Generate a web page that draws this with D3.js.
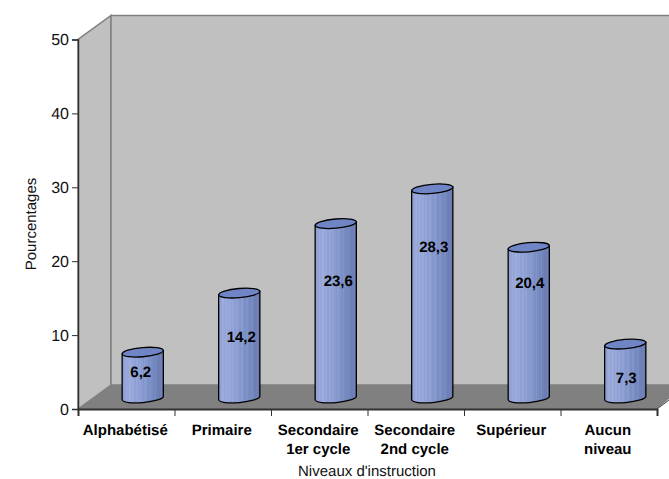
<!DOCTYPE html>
<html>
<head>
<meta charset="utf-8">
<script src="https://cdnjs.cloudflare.com/ajax/libs/d3/7.8.5/d3.min.js"></script>
<style>
  html, body { margin: 0; padding: 0; background: #fff; }
  svg { display: block; font-family: "Liberation Sans", Arial, sans-serif; text-rendering: geometricPrecision; }
</style>
</head>
<body>
<svg id="chart" width="669" height="479"></svg>
<script>
const categories = ["Alphabétisé", "Primaire", "Secondaire|1er cycle", "Secondaire|2nd cycle", "Supérieur", "Aucun|niveau"];
const values = [6.2, 14.2, 23.6, 28.3, 20.4, 7.3];
const valueLabels = ["6,2", "14,2", "23,6", "28,3", "20,4", "7,3"];
const labelHeights = [3.5, 8.3, 15.8, 20.5, 15.5, 2.7];
const labelShifts = [-2, 2, 2.5, 1.5, 1, 1];
const yTicks = [0, 10, 20, 30, 40, 50];
const stripeColors = ["#8e9ed2", "#93a3d6", "#9babdb", "#96a6d8", "#9dadde", "#94a5d8", "#98a8da", "#8fa0d5", "#94a5d8", "#8b9dd2", "#90a1d5", "#8a9bd0", "#8496cc", "#8a9ccf", "#8295ca", "#7b8fc5", "#8094c9", "#788cc2", "#7487bd", "#7a8dc2", "#7083b9", "#6c7eb4", "#6f81b6", "#6a7bb0"];

const svg = d3.select("#chart");
const W = 669;

const x = d3.scaleBand().domain(categories).range([78, 657]);
const y = d3.scaleLinear().domain([0, 50]).range([409, 39.5]);

// Oblique depth of the 3D box, and how far the cylinders sit into it
const depthX = 33, depthY = 24;
const seatY = 11;
const rx = 20.6, ry = 4.6, tilt = -5;
const tiltRise = rx * Math.sin(-tilt * Math.PI / 180);

// Fine vertical striping across the cylinder body
const defs = svg.append("defs");
const grad = defs.append("linearGradient").attr("id", "cyl");
stripeColors.forEach((c, i) => {
  grad.append("stop").attr("offset", i / stripeColors.length).attr("stop-color", c);
  grad.append("stop").attr("offset", (i + 1) / stripeColors.length).attr("stop-color", c);
});

// Walls and floor
const x0 = x.range()[0], x1 = x.range()[1], y0 = y(0), yTop = y(50);
const wallStroke = "#808080";
svg.append("polygon")
  .attr("points", [[x0, y0], [x0, yTop], [x0 + depthX, yTop - depthY], [x0 + depthX, y0 - depthY]].join(" "))
  .attr("fill", "#c0c0c0").attr("stroke", wallStroke).attr("stroke-width", 1.5);
svg.append("rect")
  .attr("x", x0 + depthX).attr("y", yTop - depthY)
  .attr("width", W - x0 - depthX + 2).attr("height", y0 - yTop)
  .attr("fill", "#c0c0c0").attr("stroke", wallStroke).attr("stroke-width", 1.5);
svg.append("polygon")
  .attr("points", [[x0, y0], [x0 + depthX, y0 - depthY], [W + 2, y0 - depthY], [W + 2, y0 - 12], [x1, y0]].join(" "))
  .attr("fill", "#808080");
svg.append("line")
  .attr("x1", x1).attr("y1", y0).attr("x2", x1 + 16).attr("y2", y0 - 12)
  .attr("stroke", "#404040").attr("stroke-width", 1);

// Cylinders
const bars = svg.selectAll("g.bar").data(categories).join("g").attr("class", "bar");
const cx = (d) => x(d) + x.bandwidth() / 2 + 16.5;
const baseY = y0 - seatY;
const heightPx = (v) => y0 - y(v);
const topY = (i) => baseY - heightPx(values[i]);

bars.append("path")
  .attr("d", (d, i) => {
    const l = cx(d) - rx, r = cx(d) + rx, t = topY(i);
    return `M${l},${t + tiltRise}L${l},${baseY + tiltRise}A${rx},${ry} ${tilt} 0 0 ${r},${baseY - tiltRise}L${r},${t - tiltRise}Z`;
  })
  .attr("fill", "url(#cyl)").attr("stroke", "#000").attr("stroke-width", 1.3);
bars.append("ellipse")
  .attr("rx", rx).attr("ry", ry)
  .attr("transform", (d, i) => `translate(${cx(d)},${topY(i)}) rotate(${tilt})`)
  .attr("fill", "#7085c6").attr("stroke", "#000").attr("stroke-width", 1.3);
bars.append("text")
  .attr("x", (d, i) => cx(d) + labelShifts[i]).attr("y", (d, i) => baseY - heightPx(labelHeights[i]) + 5)
  .attr("text-anchor", "middle")
  .attr("font-size", 15).attr("font-weight", "bold").attr("fill", "#000")
  .text((d, i) => valueLabels[i]);

// Axes
const axisColor = "#303030";
const yAxis = d3.axisLeft(y).tickValues(yTicks).tickSize(6).tickPadding(3);
const gy = svg.append("g").attr("transform", `translate(${x0},0)`).call(yAxis);
gy.select(".domain").attr("stroke", axisColor).attr("stroke-width", 1.5);
gy.selectAll(".tick line").attr("stroke", axisColor);
gy.selectAll(".tick text").attr("font-size", 16).attr("fill", "#111").attr("font-family", "Liberation Sans");

const edges = categories.map((c) => x(c)).concat(x1);
const xEdge = d3.scaleLinear().domain([x0, x1]).range([x0, x1]);
const gx = svg.append("g").attr("transform", `translate(0,${y0})`)
  .call(d3.axisBottom(xEdge).tickValues(edges).tickSize(7).tickFormat(""));
gx.select(".domain").attr("stroke", axisColor).attr("stroke-width", 2);
gx.selectAll(".tick line").attr("stroke", axisColor);

// Category labels, split over two lines where needed
const catLabels = svg.selectAll("text.cat").data(categories).join("text")
  .attr("class", "cat")
  .attr("text-anchor", "middle").attr("font-size", 15).attr("font-weight", "bold").attr("fill", "#000")
  .attr("transform", (d) => `translate(${x(d) + x.bandwidth() / 2 - 1},435)`);
catLabels.selectAll("tspan").data((d) => d.split("|")).join("tspan")
  .attr("x", 0).attr("y", (d, i) => i * 19).text((d) => d);

// Axis titles
svg.append("text").attr("x", 367).attr("y", 475.5).attr("text-anchor", "middle")
  .attr("font-size", 15).attr("fill", "#111").text("Niveaux d'instruction");
svg.append("text").attr("transform", "translate(36,224) rotate(-90)").attr("text-anchor", "middle")
  .attr("font-size", 15).attr("fill", "#111").text("Pourcentages");
</script>
</body>
</html>
